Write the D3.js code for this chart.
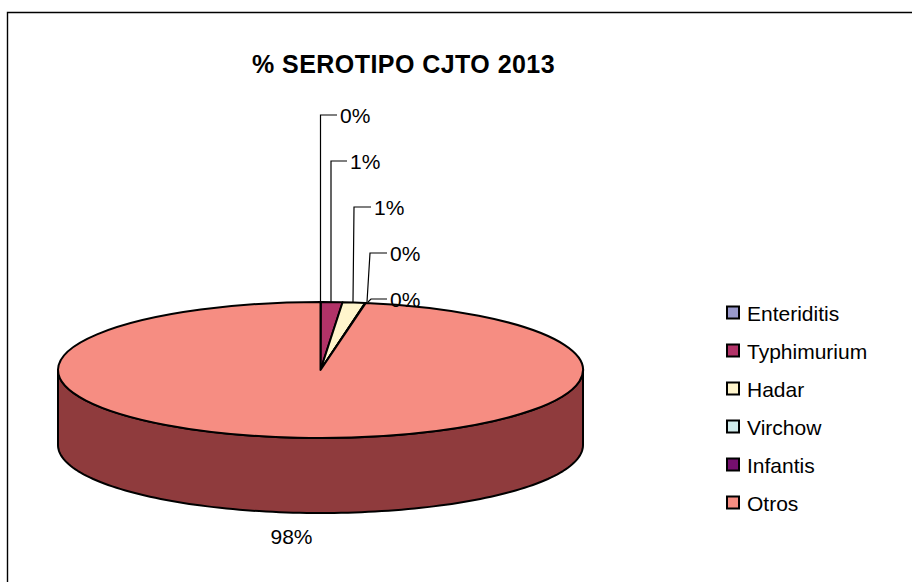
<!DOCTYPE html>
<html><head><meta charset="utf-8">
<script src="https://cdn.jsdelivr.net/npm/d3@7"></script>
<style>html,body{margin:0;background:#fff}svg{display:block}text{font-family:"Liberation Sans",Arial,sans-serif;fill:#000}</style>
</head><body><svg id="c" width="912" height="582"></svg>
<script>
const chartTitle = "% SEROTIPO CJTO 2013";
const categories = ["Enteriditis","Typhimurium","Hadar","Virchow","Infantis","Otros"];
const values = [0.02,1.32,1.38,0.02,0.02,97.24];
const labels = ["0%","1%","1%","0%","0%","98%"];
const colors = ["#9999cc","#b23368","#fff5cc","#d1ebeb","#750f6e","#f68d82"];
const sideColor = "#8f3b3d";

const W=912,H=582, cx=320.5, cy=370, rx=262.5, ry=68, depth=75;
const svg=d3.select("#c");

// frame
svg.append("path").attr("d",`M7.5,${H}V12.5H${W}`).attr("fill","none").attr("stroke","#000").attr("stroke-width",1.4);

svg.append("text").attr("x",403.5).attr("y",73).attr("text-anchor","middle")
  .attr("font-size",25).attr("font-weight","bold").attr("letter-spacing",0.45).text(chartTitle);

const pie=d3.pie().sort(null).value(d=>d)(values);
const py=d3.scaleLinear().domain([0,rx]).range([0,ry]);
const pt=(a,r=rx)=>[cx+r*Math.sin(a), cy-py(r*Math.cos(a))];

// wall of the front half
const a0=Math.PI/2, a1=3*Math.PI/2;
const steps=d3.range(0,121).map(i=>a0+(a1-a0)*i/120);
const wall=d3.line()(steps.map(a=>{const p=pt(a);return [p[0],p[1]+depth];}))
  +"L"+steps.slice().reverse().map(a=>pt(a).join(",")).join("L")+"Z";
svg.append("path").attr("d",wall).attr("fill",sideColor).attr("stroke","#000").attr("stroke-width",2).attr("stroke-linejoin","round");

// top slices: d3 arc squashed into an ellipse
const arc=d3.arc().innerRadius(0).outerRadius(rx);
svg.append("g").attr("transform",`translate(${cx},${cy}) scale(1,${ry/rx})`)
  .selectAll("path").data(pie).join("path")
  .attr("d",arc).attr("fill",(d,i)=>colors[i]).attr("stroke","#000").attr("stroke-width",2)
  .attr("stroke-linejoin","round").attr("vector-effect","non-scaling-stroke");

// data labels with leader lines
const leaderStart=[320.5,331,353,367,368];
const leaderEnd=[[320.5,115,337],[331,161,347],[354,207,371],[370,253,387],[371,299,387]];
const leader=svg.append("g").attr("fill","none").attr("stroke","#000").attr("stroke-width",1.2);
pie.slice(0,5).forEach((d,i)=>{
  const [bx,by,ex]=leaderEnd[i];
  leader.append("path").attr("d",d3.line()([[leaderStart[i],302],[bx,by],[ex,by]]));
  svg.append("text").attr("x",ex+3).attr("y",by+8).attr("font-size",21).text(labels[i]);
});
svg.append("text").attr("x",291.5).attr("y",544).attr("text-anchor","middle").attr("font-size",21).text(labels[5]);

// legend
const ly=d3.scalePoint().domain(categories).range([313,503]);
const lg=svg.append("g").selectAll("g").data(categories).join("g").attr("transform",d=>`translate(0,${ly(d)})`);
lg.append("rect").attr("x",727).attr("y",-6.5).attr("width",12).attr("height",12).attr("fill",(d,i)=>colors[i]).attr("stroke","#000").attr("stroke-width",2);
lg.append("text").attr("x",747).attr("y",7.5).attr("font-size",21).text(d=>d);
</script></body></html>
